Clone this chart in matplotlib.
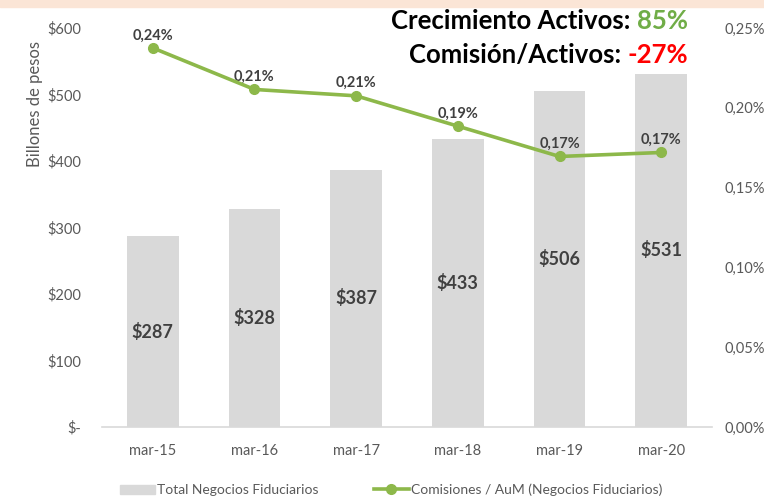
import matplotlib
matplotlib.use("Agg")
import matplotlib.pyplot as plt
from matplotlib.patches import Rectangle
from matplotlib.lines import Line2D

plt.rcParams['font.family'] = ['Lato', 'DejaVu Sans']

categories = ["mar-15", "mar-16", "mar-17", "mar-18", "mar-19", "mar-20"]
activos = [287, 328, 387, 433, 506, 531]
comision = [0.2375, 0.2115, 0.2075, 0.1885, 0.1695, 0.1720]
comision_labels = ["0,24%", "0,21%", "0,21%", "0,19%", "0,17%", "0,17%"]
left_ticks = [0, 100, 200, 300, 400, 500, 600]
left_ticklabels = ["$-", "$100", "$200", "$300", "$400", "$500", "$600"]
right_ticks = [0, 0.05, 0.10, 0.15, 0.20, 0.25]
right_ticklabels = ["0,00%", "0,05%", "0,10%", "0,15%", "0,20%", "0,25%"]

bar_color = "#D9D9D9"
line_color = "#8DB84A"
txt_gray = "#595959"
lbl_dark = "#404040"

fig = plt.figure(figsize=(7.64, 4.99), dpi=100)
fig.patches.append(Rectangle((0, 1 - 7/499), 1, 7/499, transform=fig.transFigure,
                             color="#FBE5D6", zorder=0))

ax = fig.add_axes([102/764, 1 - 427/499, 610/764, 399/499])
x = list(range(len(categories)))
ax.bar(x, activos, width=0.51, color=bar_color, zorder=2)
ax.set_xlim(-0.5, 5.5)
ax.set_ylim(0, 600)
ax.set_yticks(left_ticks)
ax.set_yticklabels(left_ticklabels)
ax.set_xticks(x)
ax.set_xticklabels(categories)
for s in ["top", "right", "left"]:
    ax.spines[s].set_visible(False)
ax.spines["bottom"].set_color("#D9D9D9")
ax.spines["bottom"].set_linewidth(1.2)
ax.tick_params(axis="both", length=0, colors=txt_gray, labelsize=10.5)
ax.tick_params(axis="x", pad=12)
ax.tick_params(axis="y", pad=15)
for xi, v in zip(x, activos):
    ax.text(xi, v / 2, f"${v}", ha="center", va="center", fontsize=13,
            fontweight="bold", color=lbl_dark, zorder=4)

ax2 = ax.twinx()
ax2.plot(x, comision, color=line_color, lw=2.6, marker="o", ms=7, zorder=5)
ax2.set_ylim(0, 0.25)
ax2.set_yticks(right_ticks)
ax2.set_yticklabels(right_ticklabels)
for s in ["top", "right", "left", "bottom"]:
    ax2.spines[s].set_visible(False)
ax2.tick_params(axis="y", length=0, colors=txt_gray, labelsize=10.5, pad=9)
for xi, v, t in zip(x, comision, comision_labels):
    ax2.annotate(t, (xi, v), xytext=(0, 4), textcoords="offset points",
                 ha="center", va="bottom", fontsize=10.5, fontweight="bold",
                 color=lbl_dark)

fig.text(35/764, 1 - 104/499, "Billones de pesos", rotation=90, ha="center",
         va="center", fontsize=12, color=txt_gray)

# headline texts
def headline(y, parts):
    t = fig.text(688/764, y, parts[1][0], ha="right", va="center", fontsize=18.5,
                 fontweight="bold", color=parts[1][1])
    fig.canvas.draw()
    bb = t.get_window_extent()
    fig.text(bb.x0 / fig.bbox.width, y, parts[0][0], ha="right", va="center",
             fontsize=18.5, fontweight="bold", color=parts[0][1])

headline(1 - 21/499, [("Crecimiento Activos: ", "#000000"), ("85%", "#70AD47")])
headline(1 - 55/499, [("Comisión/Activos: ", "#000000"), ("-27%", "#FF0000")])

handles = [Rectangle((0, 0), 1, 1, color=bar_color),
           Line2D([0], [0], color=line_color, lw=2.6, marker="o", ms=7)]
fig.legend(handles, ["Total Negocios Fiduciarios", "Comisiones / AuM (Negocios Fiduciarios)"],
           loc="center", bbox_to_anchor=(391/764, 1 - 490/499), ncol=2, frameon=False,
           fontsize=10, labelcolor=txt_gray, handlelength=2.5, handletextpad=0.15,
           columnspacing=4.0)

fig.savefig("out.png", dpi=100)
